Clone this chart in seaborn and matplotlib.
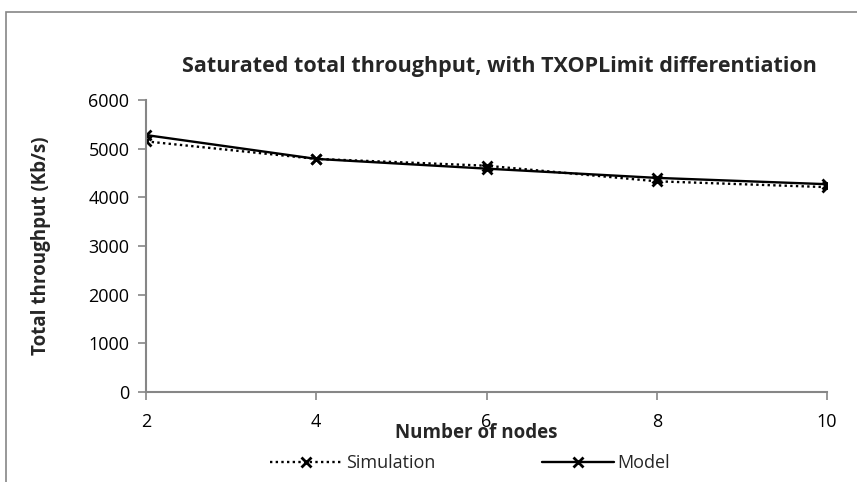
import matplotlib
matplotlib.use("Agg")
import matplotlib.pyplot as plt
from matplotlib.patches import Rectangle
import pandas as pd
import seaborn as sns

nodes = [2, 4, 6, 8, 10]
simulation = [5150, 4790, 4650, 4330, 4210]
model = [5280, 4790, 4590, 4400, 4270]

df = pd.DataFrame({"nodes": nodes * 2,
                   "throughput": simulation + model,
                   "series": ["Simulation"] * 5 + ["Model"] * 5})

sns.set_style("white")
plt.rcParams["font.family"] = ["Open Sans", "DejaVu Sans"]

axis_grey = "#868686"

fig = plt.figure(figsize=(8.57, 4.82), dpi=100)
ax = fig.add_axes([0.1704, 0.1867, 0.7946, 0.6058])

sns.lineplot(data=df, x="nodes", y="throughput", style="series",
             dashes={"Simulation": (1, 1.4), "Model": ""},
             markers={"Simulation": "x", "Model": "x"},
             color="black", linewidth=1.7, markersize=7,
             markeredgewidth=2, markeredgecolor="black", ax=ax)

ax.set_xlim(2, 10)
ax.set_ylim(0, 6000)
ax.set_xticks(nodes)
ax.set_yticks(range(0, 6001, 1000))
for side in ["top", "right"]:
    ax.spines[side].set_visible(False)
for side in ["left", "bottom"]:
    ax.spines[side].set_color(axis_grey)
    ax.spines[side].set_linewidth(1.5)
ax.tick_params(axis="both", colors=axis_grey, length=6, width=1.2,
               labelcolor="black", labelsize=13, direction="out",
               bottom=True, left=True)
ax.tick_params(axis="x", pad=9)
ax.tick_params(axis="y", pad=6)

ax.set_xlabel("Number of nodes", fontsize=13.5, fontweight="bold")
ax.xaxis.set_label_coords(0.485, -0.105)
ax.set_ylabel("Total throughput (Kb/s)", fontsize=13.5, fontweight="bold")
ax.yaxis.set_label_coords(-0.14, 0.5)
fig.text(0.583, 0.863, "Saturated total throughput, with TXOPLimit differentiation",
         ha="center", va="center", fontsize=15.5, fontweight="bold")

handles, labels = ax.get_legend_handles_labels()
ax.legend(handles, labels, loc="center", bbox_to_anchor=(0.476, -0.243),
          ncol=2, frameon=False, fontsize=13, columnspacing=5.9,
          handlelength=4, handletextpad=0.2)

fig.patches.append(Rectangle((6 / 857, -0.1), 1.2, 1 - 12 / 482 + 0.1,
                             transform=fig.transFigure, fill=False,
                             edgecolor=axis_grey, linewidth=1.2))

fig.savefig("out.png", dpi=100, facecolor="white")
